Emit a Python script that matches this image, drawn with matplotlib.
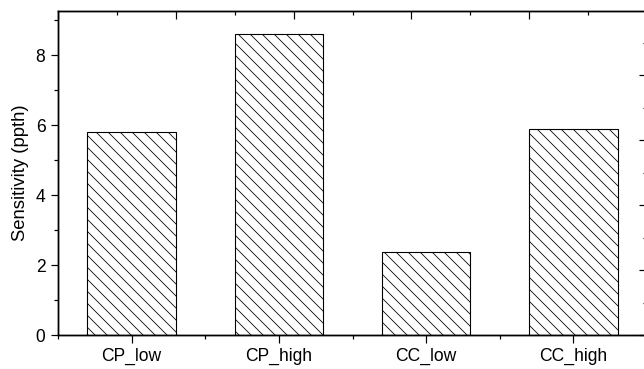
import matplotlib
matplotlib.use("Agg")
import matplotlib.pyplot as plt
from matplotlib.ticker import MultipleLocator

categories = ["CP_low", "CP_high", "CC_low", "CC_high"]
sensitivity = [5.81, 8.59, 2.37, 5.88]
y_ticks = [0, 2, 4, 6, 8]

plt.rcParams['font.family'] = ['Liberation Sans', 'DejaVu Sans']
plt.rcParams['hatch.linewidth'] = 0.8
plt.rcParams['hatch.color'] = '#222222'

fig = plt.figure(figsize=(644/72, 369/72), dpi=72)
ax = fig.add_axes([58/644, 34/369, (647-58)/644, (335-10.7)/369])

x = list(range(1, len(categories) + 1))
ax.bar(x, sensitivity, width=0.6, facecolor='white', edgecolor='black',
       linewidth=1.1, hatch='\\\\', zorder=2)

ax.set_xlim(0.5, 4.5)
ax.set_ylim(0, 9.27)
ax.set_xticks(x)
ax.set_xticklabels(categories, fontsize=17.5)
ax.set_xticks([0.5, 1.5, 2.5, 3.5, 4.5], minor=True)
ax.set_yticks(y_ticks)
ax.set_yticklabels([str(v) for v in y_ticks], fontsize=17.5)
ax.yaxis.set_minor_locator(MultipleLocator(1))
ax.set_ylabel("Sensitivity (ppth)", fontsize=18.5, labelpad=7)
ax.tick_params(which='major', direction='out', length=7.5, width=1.2, pad=5, colors='black')
ax.tick_params(which='minor', direction='out', length=4, width=1.2)
for s in ax.spines.values():
    s.set_linewidth(1.3)

# right secondary axis (cropped)
axr = ax.twinx()
axr.set_ylim(0, 4.99)
axr.yaxis.set_major_locator(MultipleLocator(1))
axr.yaxis.set_minor_locator(MultipleLocator(0.5))
axr.tick_params(axis='y', which='major', direction='in', length=8, width=1.2, labelright=False)
axr.tick_params(axis='y', which='minor', direction='in', length=4, width=1.2)

# top secondary axis
axt = ax.twiny()
axt.set_xlim(0, 5)
axt.xaxis.set_major_locator(MultipleLocator(1))
axt.xaxis.set_minor_locator(MultipleLocator(0.5))
axt.tick_params(axis='x', which='major', direction='in', length=8, width=1.2, labeltop=False)
axt.tick_params(axis='x', which='minor', direction='in', length=4, width=1.2)
for a in (axr, axt):
    for s in a.spines.values():
        s.set_linewidth(1.3)

fig.savefig("out.png", dpi=72)
